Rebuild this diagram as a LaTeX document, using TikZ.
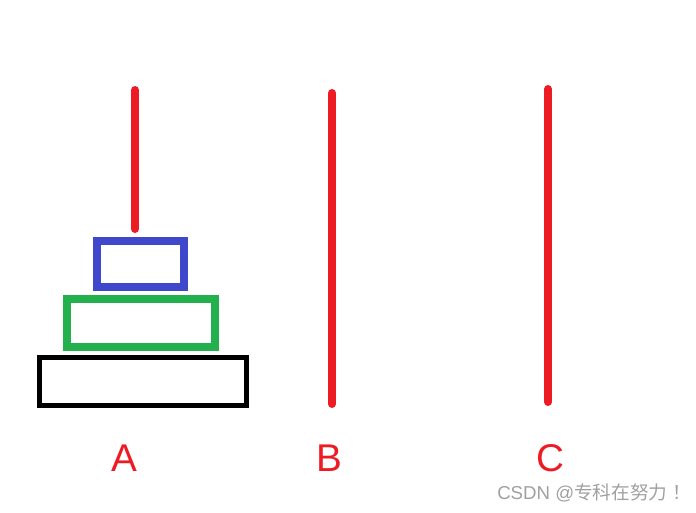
\documentclass[tikz,border=0pt]{standalone}
\usepackage{fontspec}
\setmainfont{Liberation Sans}
\newfontfamily\cjk{Noto Sans CJK SC}
\definecolor{polered}{HTML}{ED1C24}
\definecolor{diskblue}{HTML}{3F48CC}
\definecolor{diskgreen}{HTML}{22B14C}
\definecolor{markgray}{HTML}{A0A0A0}
\begin{document}
\begin{tikzpicture}[x=0.75pt, y=-0.75pt,
        pole/.style = {draw=polered, line width=6pt, line cap=round},
        disk/.style = {line width=6pt},
        label/.style = {text=polered, font=\fontsize{29}{34}\selectfont, anchor=base, inner sep=0pt}
    ]
    \useasboundingbox (0,0) rectangle (696,512);
    % poles
    \coordinate (atop) at (135,90);
    \coordinate (abot) at (135,229);
    \coordinate (btop) at (332,93);
    \coordinate (bbot) at (332,404);
    \coordinate (ctop) at (548,89);
    \coordinate (cbot) at (548,402);
    \draw[pole] (atop) -- (abot);
    \draw[pole] (btop) -- (bbot);
    \draw[pole] (ctop) -- (cbot);
    % disks on A
    \draw[disk, diskblue] (97,241) rectangle (184,287);
    \draw[disk, diskgreen] (67,299) rectangle (215,347);
    \draw[disk, line width=3.75pt, black] (39.5,357.5) rectangle (246.5,405.5);
    % labels
    \node[label] (la) at (124,471) {A};
    \node[label] (lb) at (329,471) {B};
    \node[label] (lc) at (550,471) {C};
    \node[anchor=base west, inner sep=0pt, text=markgray, font=\fontsize{14}{17}\selectfont] (mark) at (497,499) {CSDN @{\cjk 专科在努力\hspace{4pt}！}};
\end{tikzpicture}
\end{document}
